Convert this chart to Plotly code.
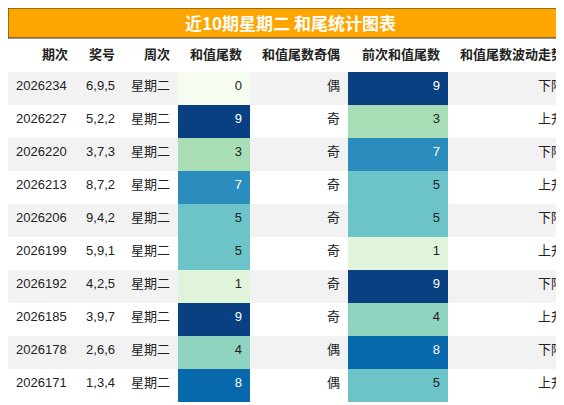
import plotly.graph_objects as go

issues = ["2026234","2026227","2026220","2026213","2026206","2026199","2026192","2026185","2026178","2026171"]
numbers = ["6,9,5","5,2,2","3,7,3","8,7,2","9,4,2","5,9,1","4,2,5","3,9,7","2,6,6","1,3,4"]
weekday = ["星期二"]*10
tail = [0,9,3,7,5,5,1,9,4,8]
parity = ["偶","奇","奇","奇","奇","奇","奇","奇","偶","偶"]
prev_tail = [9,3,7,5,5,1,9,4,8,5]
trend = ["下降","上升","下降","上升","下降","上升","下降","上升","下降","上升"]
headers = ["期次","奖号","周次","和值尾数","和值尾数奇偶","前次和值尾数","和值尾数波动走势"]

gnbu = ["#f7fcf0","#e0f3db","#ccebc5","#a8ddb5","#8fd3c1","#6cc4c8","#4eb3d3","#2b8cbe","#0868ac","#084081"]
def col(v): return gnbu[v]
def tcol(v): return "white" if v >= 7 else "#222"

stripe = ["#f2f2f2" if i % 2 == 0 else "white" for i in range(10)]
fills = [stripe, stripe, stripe, [col(v) for v in tail], stripe, [col(v) for v in prev_tail], stripe]
fcolors = [["#222"]*10]*3 + [[tcol(v) for v in tail]] + [["#222"]*10] + [[tcol(v) for v in prev_tail]] + [["#222"]*10]

FONT = "Liberation Sans, Noto Sans CJK SC"
fig = go.Figure(go.Table(
    columnwidth=[68,47,55,72,98,100,124],
    header=dict(values=[f"<b>{h}</b>" for h in headers], height=33, fill_color="white",
                line=dict(color="white", width=0), align="right", font=dict(size=13, color="#222", family=FONT)),
    cells=dict(values=[issues, numbers, weekday, tail, parity, prev_tail, trend], height=33,
               fill_color=fills, line=dict(color="rgba(0,0,0,0)", width=0), align=["left"]+["right"]*6,
               font=dict(size=13, color=fcolors, family=FONT)),
    domain=dict(x=[0,1], y=[0, 1-31/405])
))
fig.add_shape(type="rect", xref="paper", yref="paper", x0=0, x1=1, y0=1-30/405, y1=1,
              fillcolor="#ffa500", line=dict(color="#333", width=1))
fig.add_annotation(text="<b>近10期星期二 和尾统计图表</b>", xref="paper", yref="paper", x=0.5, y=1-15/405,
                   yanchor="middle", showarrow=False, font=dict(size=17, color="white", family="Noto Sans CJK SC"))
fig.update_layout(width=564, height=405, margin=dict(l=0,r=0,t=0,b=0), paper_bgcolor="white")
fig.write_html("out.html")
